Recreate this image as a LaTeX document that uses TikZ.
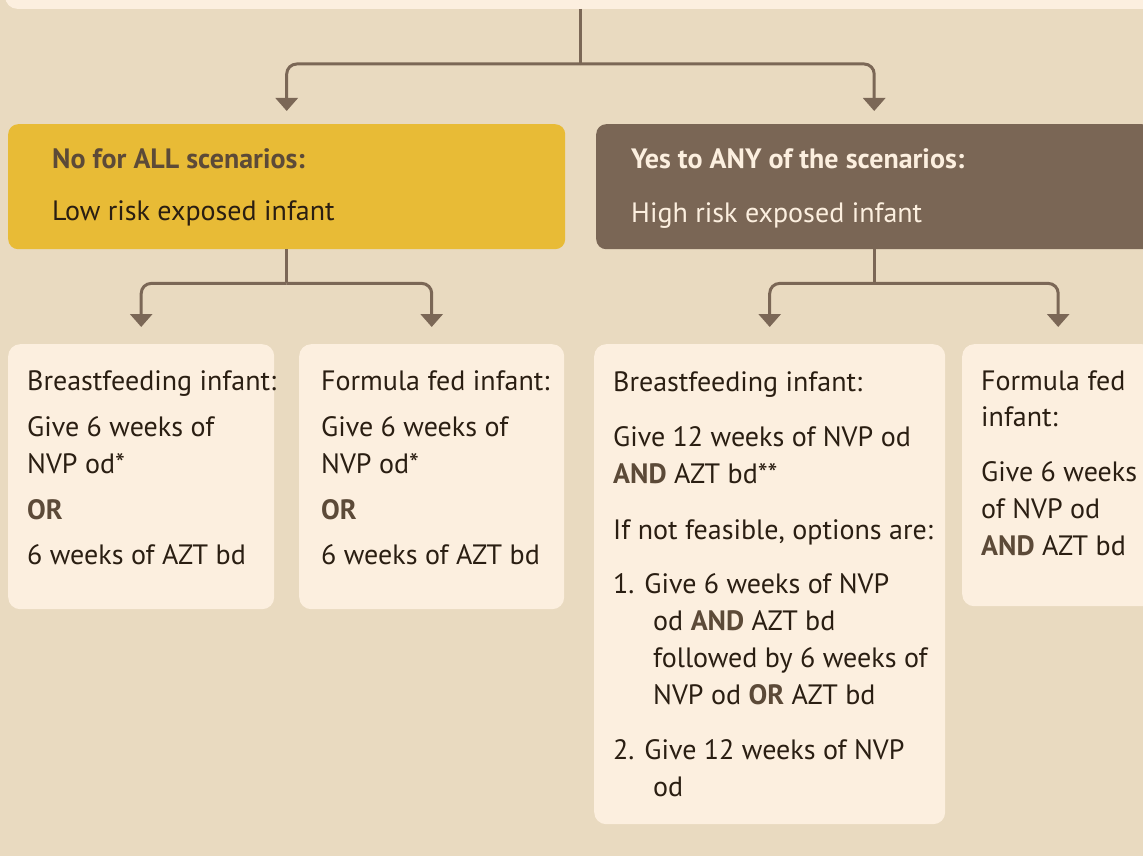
\documentclass[tikz,border=0pt]{standalone}
\usepackage{fontspec}
\setmainfont{PT Sans}
\usetikzlibrary{arrows.meta}

\definecolor{pagebg}{HTML}{E9DAC0}
\definecolor{boxcream}{HTML}{FCEFDF}
\definecolor{riskyellow}{HTML}{E8BB36}
\definecolor{riskbrown}{HTML}{7A6655}
\definecolor{linebrown}{HTML}{7B6756}
\definecolor{inkdark}{HTML}{2A1E12}
\definecolor{kwbrown}{HTML}{5C4A38}

\newcommand{\kw}[1]{\textbf{\color{kwbrown}#1}}

\tikzset{
  infobox/.style={
    rectangle, rounded corners=12pt,
    fill=boxcream, inner sep=0pt
  },
  riskbox/.style={
    rectangle, rounded corners=10pt,
    fill=#1, inner sep=0pt, anchor=north west
  },
  optbox/.style={
    rectangle, rounded corners=12pt,
    fill=boxcream, inner sep=0pt, anchor=north west
  },
  boxtext/.style={
    anchor=north west, align=left, inner sep=0pt,
    font=\fontsize{28}{36}\selectfont, text=inkdark,
    execute at begin node=\strut
  },
  stem/.style={line width=3pt, draw=linebrown},
  branch/.style={
    stem, rounded corners=10pt,
    -{Triangle[width=22pt,length=13pt]}
  }
}

\begin{document}
\begin{tikzpicture}[x=1pt, y=-1pt]

  \useasboundingbox (0,0) rectangle (1143,856);
  \clip (0,0) rectangle (1143,856);
  \fill[pagebg] (0,0) rectangle (1143,856);

  % Question box above (only its lower edge is in view)
  \node[infobox, minimum width=1150pt, minimum height=80pt,
        anchor=south west] (top) at (5,9) {};

  % Risk level boxes
  \node[riskbox=riskyellow, minimum width=557pt, minimum height=125pt]
    (low) at (8,124) {};
  \node[riskbox=riskbrown, minimum width=556pt, minimum height=125pt]
    (high) at (596,124) {};

  \node[boxtext] (low-txt) at (52,148)
    {\kw{No for ALL scenarios:}\\[16pt]Low risk exposed infant};
  \node[boxtext, text=boxcream] (high-txt) at (631,148)
    {\textbf{Yes to ANY of the scenarios:}\\[18pt]High risk exposed infant};

  % Feeding option boxes
  \node[optbox, minimum width=266pt, minimum height=265pt] (lowbf) at (8,344) {};
  \node[optbox, minimum width=265pt, minimum height=265pt] (lowff) at (299,344) {};
  \node[optbox, minimum width=351pt, minimum height=480pt] (highbf) at (594,344) {};
  \node[optbox, minimum width=192pt, minimum height=262pt] (highff) at (962,344) {};

  \node[boxtext] (lowbf-txt) at (27,370)
    {Breastfeeding infant:\\[10pt]
     Give 6 weeks of\\[1pt]
     NVP od*\\[10pt]
     \kw{OR}\\[9pt]
     6 weeks of AZT bd};
  \node[boxtext] (lowff-txt) at (321,370)
    {Formula fed infant:\\[10pt]
     Give 6 weeks of\\[1pt]
     NVP od*\\[10pt]
     \kw{OR}\\[9pt]
     6 weeks of AZT bd};
  \node[boxtext, font=\fontsize{28}{37}\selectfont] (highbf-txt) at (613,371)
    {Breastfeeding infant:\\[18pt]
     Give 12 weeks of NVP od\\
     \kw{AND} AZT bd**\\[19pt]
     If not feasible, options are:\\[17pt]
     1. Give 6 weeks of NVP\\
     \hspace*{40pt}od \kw{AND} AZT bd\\
     \hspace*{40pt}followed by 6 weeks of\\
     \hspace*{40pt}NVP od \kw{OR} AZT bd\\[18pt]
     2. Give 12 weeks of NVP\\
     \hspace*{40pt}od};
  \node[boxtext] (highff-txt) at (981,371)
    {Formula fed\\
     infant:\\[19pt]
     Give 6 weeks\\[1pt]
     of NVP od\\[1pt]
     \kw{AND} AZT bd};

  % Connectors
  \path (top.south) ++(0,55) coordinate (top-split);
  \draw[stem] (top.south) -- (top-split);
  \draw[branch] (top-split) -| ([yshift=13pt]low.north);
  \draw[branch] (top-split) -| ([yshift=13pt]high.north);

  \path (low.south) ++(0,34) coordinate (low-split);
  \draw[stem] (low.south) -- (low-split);
  \draw[branch] (low-split) -| ([yshift=17pt]lowbf.north);
  \draw[branch] (low-split) -| ([yshift=17pt]lowff.north);

  \path (high.south) ++(0,34) coordinate (high-split);
  \draw[stem] (high.south) -- (high-split);
  \draw[branch] (high-split) -| ([yshift=17pt]highbf.north);
  \draw[branch] (high-split) -| ([yshift=17pt]highff.north);

\end{tikzpicture}
\end{document}
